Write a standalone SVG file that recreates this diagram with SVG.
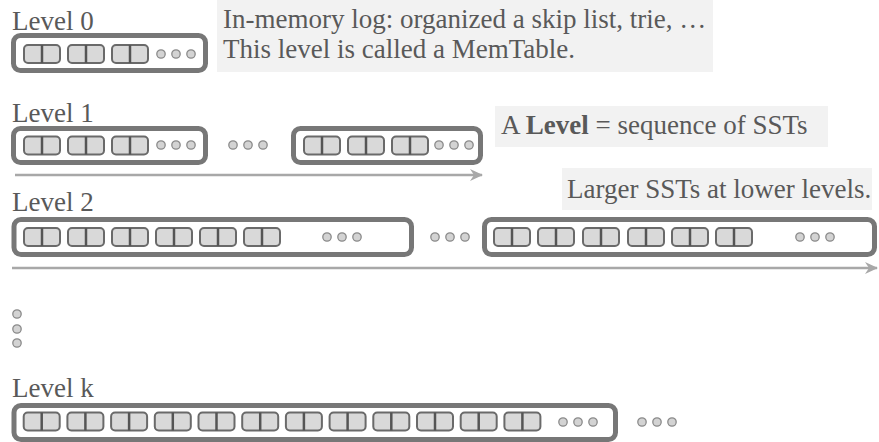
<svg xmlns="http://www.w3.org/2000/svg" xmlns:xlink="http://www.w3.org/1999/xlink" width="879" height="442" viewBox="0 0 879 442">
<style>
text{font-family:"Liberation Serif","Times New Roman",serif;font-size:27px;fill:#595959}
.lvl{fill:#fff;stroke:#777;stroke-width:5}
.sst{fill:#d9d9d9;stroke:#6a6a6a;stroke-width:2}
.div{stroke:#555;stroke-width:2.5}
.dot{fill:#d3d3d3;stroke:#8a8a8a;stroke-width:1.3}
.note{fill:#f2f2f2}
.arr{stroke:#a8a8a8;stroke-width:2.5;fill:none}
</style>
<defs>
<g id="b"><rect class="sst" x="1" y="1" width="36" height="18" rx="4"/><line class="div" x1="19" y1="1" x2="19" y2="19"/></g>
<g id="d"><circle class="dot" cx="0" cy="0" r="4.2"/><circle class="dot" cx="15" cy="0" r="4.2"/><circle class="dot" cx="30" cy="0" r="4.2"/></g>
<marker id="ah" markerUnits="userSpaceOnUse" markerWidth="14" markerHeight="12" refX="12" refY="6" orient="auto" viewBox="0 0 14 12"><path d="M0,0 L13,6 L0,12 L4,6 z" fill="#a8a8a8"/></marker>
</defs>

<g id="note0"><rect class="note" x="217" y="0" width="496" height="72"/>
<text x="223" y="28">In-memory log: organized a skip list, trie, …</text>
<text x="223" y="58">This level is called a MemTable.</text></g>

<g id="note1"><rect class="note" x="495" y="106" width="333" height="41"/>
<text x="501" y="134">A <tspan font-weight="bold">Level</tspan> = sequence of SSTs</text></g>

<g id="note2"><rect class="note" x="562" y="168" width="310" height="42"/>
<text x="567" y="198">Larger SSTs at lower levels.</text></g>

<g id="level0"><text x="12" y="30">Level 0</text>
<rect class="lvl" x="13.5" y="35.5" width="192" height="35" rx="7"/>
<use xlink:href="#b" x="23" y="44"/><use xlink:href="#b" x="67" y="44"/><use xlink:href="#b" x="111" y="44"/>
<use xlink:href="#d" x="161" y="54"/></g>

<g id="level1"><text x="12" y="122">Level 1</text>
<rect class="lvl" x="13.5" y="128.5" width="192" height="34" rx="7"/>
<use xlink:href="#b" x="23" y="135.5"/><use xlink:href="#b" x="67" y="135.5"/><use xlink:href="#b" x="111" y="135.5"/>
<use xlink:href="#d" x="161" y="145"/>
<use xlink:href="#d" x="233" y="145"/>
<rect class="lvl" x="293.5" y="128.5" width="187" height="34" rx="7"/>
<use xlink:href="#b" x="303" y="135.5"/><use xlink:href="#b" x="347" y="135.5"/><use xlink:href="#b" x="391" y="135.5"/>
<use xlink:href="#d" x="439" y="145"/></g>

<g id="level2"><text x="12" y="211">Level 2</text>
<rect class="lvl" x="14" y="219.5" width="397.5" height="35" rx="7"/>
<use xlink:href="#b" x="23" y="227"/><use xlink:href="#b" x="67" y="227"/><use xlink:href="#b" x="111" y="227"/><use xlink:href="#b" x="155" y="227"/><use xlink:href="#b" x="199" y="227"/><use xlink:href="#b" x="243" y="227"/>
<use xlink:href="#d" x="327" y="237"/>
<use xlink:href="#d" x="435" y="237"/>
<rect class="lvl" x="484.5" y="219.5" width="390" height="35" rx="7"/>
<use xlink:href="#b" x="493" y="227"/><use xlink:href="#b" x="537" y="227"/><use xlink:href="#b" x="582" y="227"/><use xlink:href="#b" x="627" y="227"/><use xlink:href="#b" x="671" y="227"/><use xlink:href="#b" x="715" y="227"/>
<use xlink:href="#d" x="800" y="237"/></g>

<g id="vdots"><circle class="dot" cx="17" cy="314" r="4.2"/><circle class="dot" cx="17" cy="329" r="4.2"/><circle class="dot" cx="17" cy="343" r="4.2"/></g>

<g id="levelk"><text x="12" y="397">Level k</text>
<rect class="lvl" x="14" y="405.5" width="601.5" height="34" rx="7"/>
<use xlink:href="#b" x="22.7" y="411.5"/><use xlink:href="#b" x="66.4" y="411.5"/><use xlink:href="#b" x="110.1" y="411.5"/><use xlink:href="#b" x="153.8" y="411.5"/><use xlink:href="#b" x="197.5" y="411.5"/><use xlink:href="#b" x="241.2" y="411.5"/><use xlink:href="#b" x="284.9" y="411.5"/><use xlink:href="#b" x="328.6" y="411.5"/><use xlink:href="#b" x="372.3" y="411.5"/><use xlink:href="#b" x="416" y="411.5"/><use xlink:href="#b" x="459.7" y="411.5"/><use xlink:href="#b" x="503.4" y="411.5"/>
<use xlink:href="#d" x="563" y="422"/>
<use xlink:href="#d" x="642" y="422"/></g>

<g id="connectors">
<line class="arr" x1="15" y1="175" x2="482" y2="175" marker-end="url(#ah)"/>
<line class="arr" x1="12" y1="268" x2="877" y2="268" marker-end="url(#ah)"/>
</g>
</svg>
